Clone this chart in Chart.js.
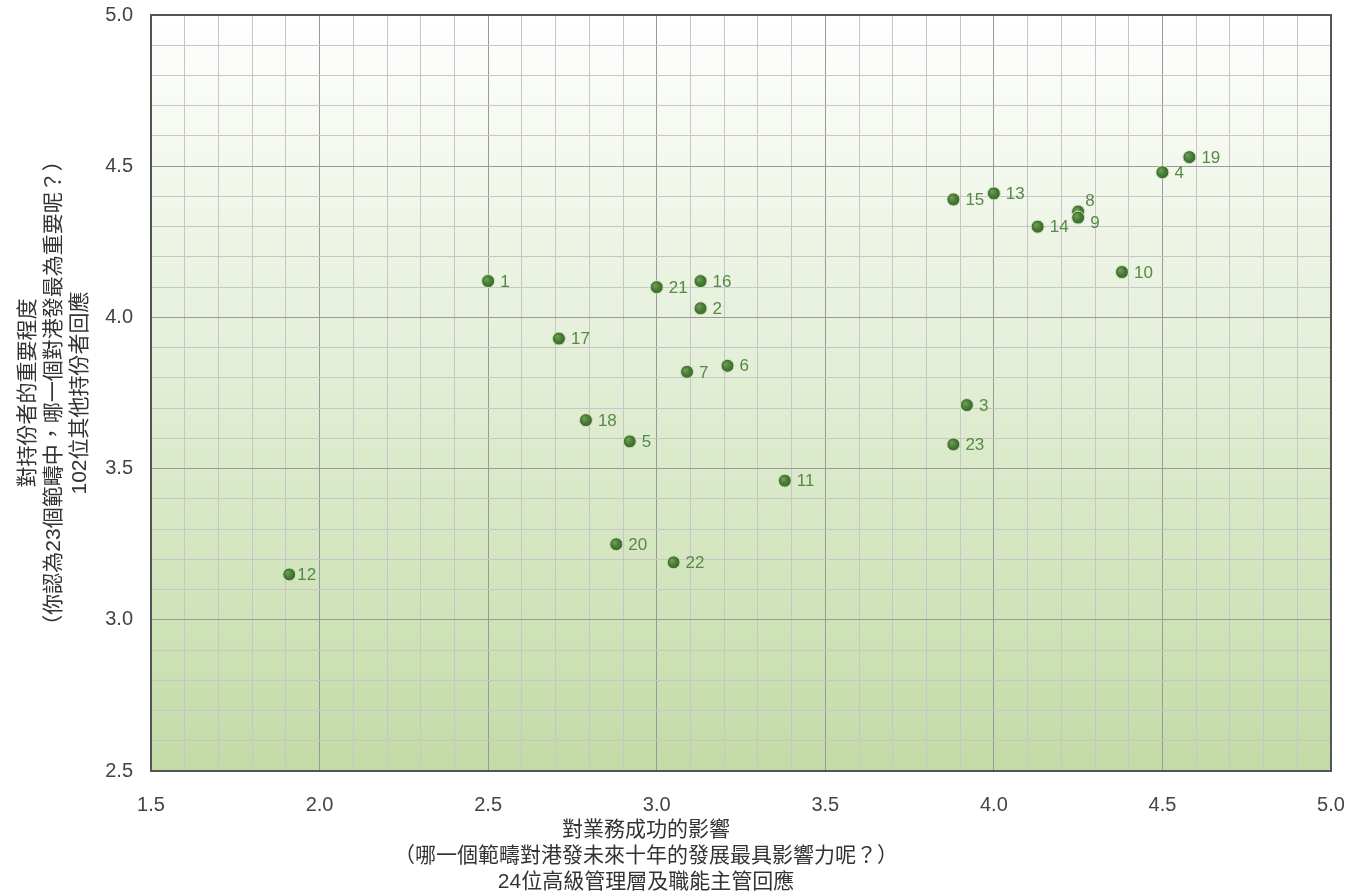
<!DOCTYPE html>
<html>
<head>
<meta charset="utf-8">
<script src="https://cdn.jsdelivr.net/npm/chart.js@4.4.1/dist/chart.umd.min.js"></script>
<style>
  html, body { margin: 0; padding: 0; background: #ffffff; }
  #wrap { width: 1347px; height: 896px; }
</style>
</head>
<body>
<div id="wrap"><canvas id="c" width="1347" height="896"></canvas></div>
<script>
// ---- data ----
const pointIds = ['1','2','3','4','5','6','7','8','9','10','11','12','13','14','15','16','17','18','19','20','21','22','23'];
const impactValues = [2.50, 3.13, 3.92, 4.50, 2.92, 3.21, 3.09, 4.25, 4.25, 4.38, 3.38, 1.91, 4.00, 4.13, 3.88, 3.13, 2.71, 2.79, 4.58, 2.88, 3.00, 3.05, 3.88];
const importanceValues = [4.12, 4.03, 3.71, 4.48, 3.59, 3.84, 3.82, 4.35, 4.33, 4.15, 3.46, 3.15, 4.41, 4.30, 4.39, 4.12, 3.93, 3.66, 4.53, 3.25, 4.10, 3.19, 3.58];
const xMin = 1.5, xMax = 5.0, yMin = 2.5, yMax = 5.0;
const xTitle = ['對業務成功的影響', '（哪一個範疇對港發未來十年的發展最具影響力呢？）', '24位高級管理層及職能主管回應'];
const yTitle = ['對持份者的重要程度', '（你認為23個範疇中，哪一個對港發最為重要呢？）', '102位其他持份者回應'];

const FONT = "'Liberation Sans', 'Noto Sans CJK TC', sans-serif";

const points = pointIds.map((id, i) => ({ x: impactValues[i], y: importanceValues[i], id: id }));

const isMajor = v => Math.abs(v * 2 - Math.round(v * 2)) < 1e-6;
const noPad = scale => { scale.paddingTop = 0; scale.paddingBottom = 0; scale.paddingLeft = 0; scale.paddingRight = 0; };

const bgPlugin = {
  id: 'bg',
  beforeDraw(chart) {
    const { ctx, chartArea: a } = chart;
    const g = ctx.createLinearGradient(0, a.top, 0, a.bottom);
    g.addColorStop(0, '#ffffff');
    g.addColorStop(1, '#c3dba7');
    ctx.save();
    ctx.fillStyle = g;
    ctx.fillRect(a.left, a.top, a.right - a.left, a.bottom - a.top);
    ctx.restore();
  },
  afterDraw(chart) {
    const { ctx } = chart;
    ctx.save();
    ctx.font = '21px ' + FONT;
    ctx.fillStyle = '#333333';
    ctx.textAlign = 'center';
    ctx.textBaseline = 'middle';
    xTitle.forEach((t, i) => ctx.fillText(t, 646, 830 + i * 26));
    ctx.restore();
  },
  afterDatasetsDraw(chart) {
    const { ctx, chartArea: a } = chart;
    ctx.save();
    ctx.strokeStyle = '#555555';
    ctx.lineWidth = 2;
    ctx.strokeRect(a.left, a.top, a.right - a.left, a.bottom - a.top);
    const meta = chart.getDatasetMeta(0);
    ctx.font = '17px ' + FONT;
    ctx.fillStyle = '#558a45';
    ctx.textBaseline = 'middle';
    ctx.textAlign = 'left';
    meta.data.forEach((el, i) => {
      const id = pointIds[i];
      let dx = 12, dy = 1;
      if (id === '8') { dx = 7; dy = -10; }
      if (id === '9') { dx = 12; dy = 6; }
      if (id === '12') { dx = 8; }
      ctx.fillText(id, el.x + dx, el.y + dy);
    });
    ctx.restore();
  }
};

new Chart(document.getElementById('c'), {
  type: 'scatter',
  data: {
    datasets: [{
      data: points,
      pointRadius: 6.5,
      pointHoverRadius: 6.5,
      backgroundColor: function(context) {
        const el = context.element;
        const c = context.chart.ctx;
        if (!el || el.x === undefined || isNaN(el.x)) return '#4b7d3a';
        const g = c.createRadialGradient(el.x - 2, el.y - 2, 0.5, el.x, el.y, 7);
        g.addColorStop(0, '#6c9e52');
        g.addColorStop(0.6, '#447634');
        g.addColorStop(1, '#386829');
        return g;
      },
      borderColor: '#d4e6c0',
      borderWidth: 1
    }]
  },
  options: {
    responsive: false,
    animation: false,
    events: [],
    layout: { padding: { left: 0, top: 15, right: 16, bottom: 0 } },
    plugins: { legend: { display: false }, tooltip: { enabled: false } },
    scales: {
      x: {
        type: 'linear',
        min: xMin, max: xMax,
        afterFit(scale) { scale.height = 125; noPad(scale); },
        ticks: {
          stepSize: 0.1,
          autoSkip: false,
          maxRotation: 0,
          padding: 22,
          color: '#444444',
          font: { family: FONT, size: 20 },
          callback: v => isMajor(v) ? v.toFixed(1) : ''
        },
        grid: {
          drawTicks: false,
          color: ctx => isMajor(ctx.tick.value) ? '#999999' : '#c6c6c6',
          lineWidth: 1
        },
        border: { display: false },
        title: { display: false }
      },
      y: {
        type: 'linear',
        min: yMin, max: yMax,
        afterFit(scale) { scale.width = 151; noPad(scale); },
        ticks: {
          stepSize: 0.1,
          autoSkip: false,
          padding: 18,
          color: '#444444',
          font: { family: FONT, size: 20 },
          callback: v => isMajor(v) ? v.toFixed(1) : ''
        },
        grid: {
          drawTicks: false,
          color: ctx => isMajor(ctx.tick.value) ? '#999999' : '#c6c6c6',
          lineWidth: 1
        },
        border: { display: false },
        title: {
          display: true,
          text: yTitle,
          color: '#333333',
          font: { family: FONT, size: 21, lineHeight: '26px' },
          padding: { top: 15, bottom: 0 }
        }
      }
    }
  },
  plugins: [bgPlugin]
});
</script>
</body>
</html>
